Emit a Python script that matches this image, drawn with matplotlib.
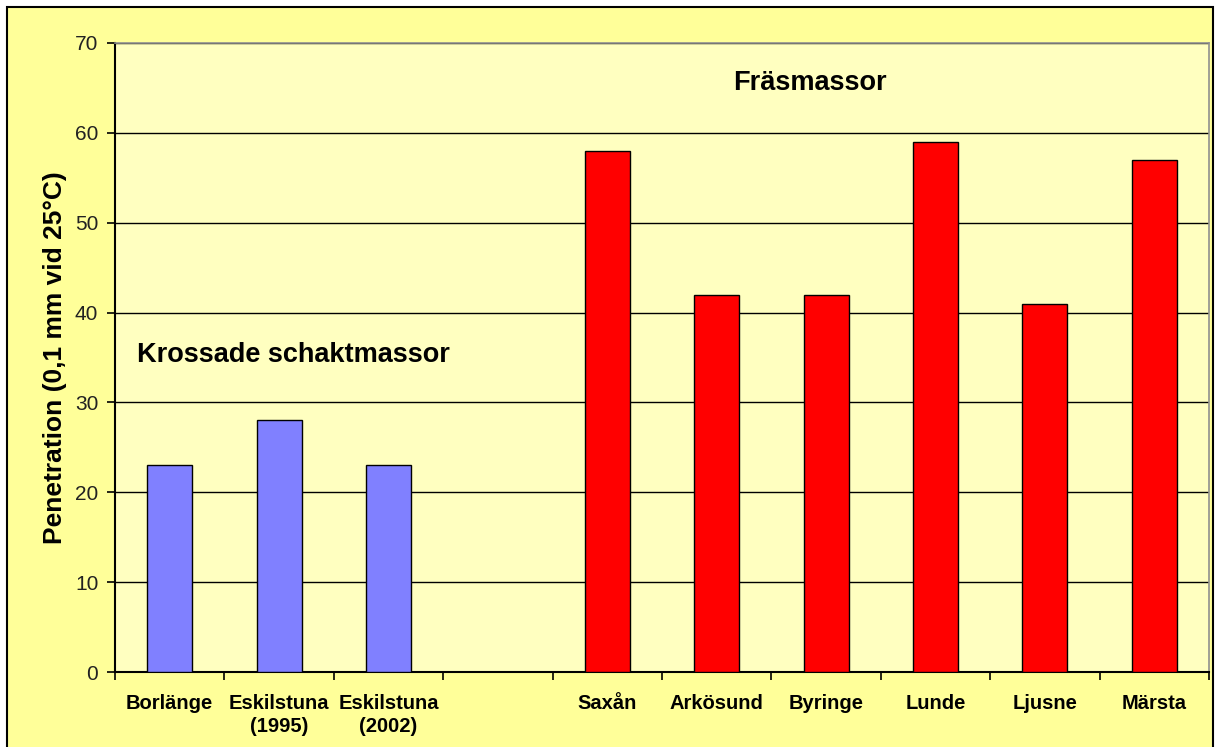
import matplotlib
matplotlib.use("Agg")
import matplotlib.pyplot as plt
from matplotlib.patches import Rectangle
import numpy as np

categories = ["Borlänge", "Eskilstuna\n(1995)", "Eskilstuna\n(2002)", "",
              "Saxån", "Arkösund", "Byringe", "Lunde", "Ljusne", "Märsta"]
values = [23, 28, 23, 0, 58, 42, 42, 59, 41, 57]
groups = ["blue", "blue", "blue", "none", "red", "red", "red", "red", "red", "red"]
colors_map = {"blue": "#8080FF", "red": "#FF0000", "none": "none"}
yticks = [0, 10, 20, 30, 40, 50, 60, 70]

plt.rcParams['font.family'] = ['Liberation Sans', 'DejaVu Sans']

W, H = 1215, 747
fig = plt.figure(figsize=(W/100, H/100), dpi=100)
fig.patch.set_facecolor("white")
fig.patches.append(Rectangle((7/W, -0.02), (1213-7)/W, (747-7)/H + 0.02, transform=fig.transFigure,
                             facecolor="#FFFF99", edgecolor="black", linewidth=1.5, zorder=-10))

left, right, top, bottom = 115, 1209, 43, 672
ax = fig.add_axes([left/W, 1 - bottom/H, (right-left)/W, (bottom-top)/H])
ax.set_zorder(1)
ax.set_facecolor("#FFFFC0")

x = np.arange(len(categories))
for xi, v, g in zip(x, values, groups):
    if g == "none":
        continue
    ax.bar(xi, v, width=0.41, color=colors_map[g], edgecolor="black", linewidth=1.0, zorder=3)

ax.set_xlim(-0.5, len(categories) - 0.5)
ax.set_ylim(0, 70)
ax.set_yticks(yticks)
ax.set_yticklabels([str(t) for t in yticks], fontsize=15, color="#222222")
ax.yaxis.grid(True, color="black", linewidth=1.0, zorder=1)
ax.set_axisbelow(True)

ax.set_xticks(x)
ax.set_xticklabels(categories, fontsize=14.5, fontweight="bold", linespacing=1.25)
ax.tick_params(axis="x", length=0, pad=16)
ax.set_xticks(np.arange(-0.5, len(categories)), minor=True)
ax.tick_params(axis="x", which="minor", length=6, width=1.2, direction="out")
ax.tick_params(axis="y", length=6, width=1.2, direction="out", pad=6)

for s in ["top", "right"]:
    ax.spines[s].set_color("#909090")
    ax.spines[s].set_linewidth(1.2)
for s in ["left", "bottom"]:
    ax.spines[s].set_color("black")
    ax.spines[s].set_linewidth(1.5)

ax.set_ylabel("Penetration (0,1 mm vid 25°C)", fontsize=19, fontweight="bold", labelpad=6)

ax.text(5.85, 65.6, "Fräsmassor", fontsize=19.5, fontweight="bold", ha="center", va="center")
ax.text(-0.3, 35.3, "Krossade schaktmassor", fontsize=19.5, fontweight="bold", ha="left", va="center")

fig.savefig("out.png", dpi=100, facecolor=fig.get_facecolor())
